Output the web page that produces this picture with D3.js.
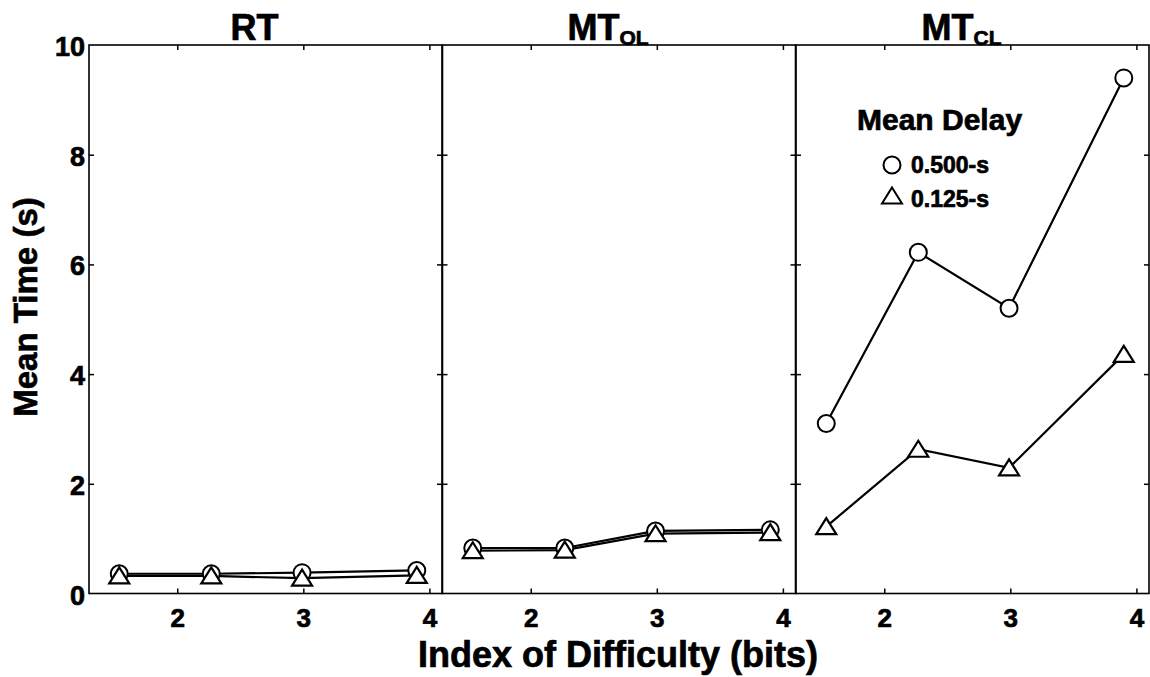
<!DOCTYPE html>
<html>
<head>
<meta charset="utf-8">
<script src="https://cdn.jsdelivr.net/npm/d3@7"></script>
<style>
  html, body { margin: 0; padding: 0; background: #fff; }
  svg { display: block; font-family: "Liberation Sans", Arial, Helvetica, sans-serif; font-weight: bold; }
  svg text { stroke: #000; stroke-width: 0.7px; }
</style>
</head>
<body>
<svg id="chart" width="1150" height="677"></svg>
<script>
// ---- data ----
const indexOfDifficulty = [1.54, 2.27, 2.99, 3.90];
const panelTitles = [["RT", ""], ["MT", "OL"], ["MT", "CL"]];
const delay500 = [
  [0.36, 0.36, 0.38, 0.42],   // RT
  [0.83, 0.83, 1.14, 1.16],   // MT_OL
  [3.10, 6.22, 5.20, 9.40]    // MT_CL
];
const delay125 = [
  [0.32, 0.32, 0.28, 0.33],
  [0.78, 0.79, 1.09, 1.11],
  [1.22, 2.63, 2.29, 4.36]
];
const legendLabels = ["0.500-s", "0.125-s"];
const xTicks = [2, 3, 4];
const yTicks = [0, 2, 4, 6, 8, 10];

// ---- layout ----
const svg = d3.select("#chart");
const plotTop = 45, plotBottom = 593.5;
const panelLefts = [89, 442.5, 796];
const panelW = 353;
const y = d3.scaleLinear().domain([0, 10]).range([plotBottom, plotTop]);

const triPath = "M0,-8.5 L10,7.5 L-10,7.5 Z";

panelLefts.forEach((x0, p) => {
  const x = d3.scaleLinear().domain([1.3, 4.1]).range([x0, x0 + panelW]);
  const g = svg.append("g");

  // frame
  g.append("rect").attr("x", x0).attr("y", plotTop).attr("width", panelW).attr("height", plotBottom - plotTop)
    .attr("fill", "none").attr("stroke", "#000").attr("stroke-width", 1.6);

  // bottom axis (inward ticks + labels)
  const xb = g.append("g").attr("transform", `translate(0,${plotBottom})`)
    .call(d3.axisBottom(x).tickValues(xTicks).tickSize(-5).tickPadding(0).tickFormat(d3.format("d")));
  xb.select(".domain").remove();
  xb.selectAll(".tick line").attr("stroke", "#000").attr("stroke-width", 1.5);
  xb.selectAll(".tick text").attr("font-size", 26).attr("font-weight", "bold")
    .attr("font-family", "Liberation Sans, Arial, sans-serif").attr("fill", "#000")
    .attr("dy", null).attr("y", 33);

  // top ticks
  const xt = g.append("g").attr("transform", `translate(0,${plotTop})`)
    .call(d3.axisTop(x).tickValues(xTicks).tickSize(-5).tickFormat(""));
  xt.select(".domain").remove();
  xt.selectAll(".tick line").attr("stroke", "#000").attr("stroke-width", 1.5);

  // left and right ticks
  const yl = g.append("g").attr("transform", `translate(${x0},0)`)
    .call(d3.axisLeft(y).tickValues(yTicks.slice(1, -1)).tickSize(-5).tickFormat(""));
  yl.select(".domain").remove();
  yl.selectAll(".tick line").attr("stroke", "#000").attr("stroke-width", 1.5);
  const yr = g.append("g").attr("transform", `translate(${x0 + panelW},0)`)
    .call(d3.axisRight(y).tickValues(yTicks.slice(1, -1)).tickSize(-5).tickFormat(""));
  yr.select(".domain").remove();
  yr.selectAll(".tick line").attr("stroke", "#000").attr("stroke-width", 1.5);

  // title
  const t = g.append("text").attr("x", x0 + panelW / 2 - 11).attr("y", 40)
    .attr("text-anchor", "middle").attr("font-size", 36).attr("fill", "#000");
  t.append("tspan").text(panelTitles[p][0]);
  if (panelTitles[p][1]) {
    t.append("tspan").attr("font-size", 21).attr("dy", 5).text(panelTitles[p][1]);
  }

  // lines
  const line = d3.line().x((d, i) => x(indexOfDifficulty[i])).y(d => y(d));
  g.append("path").datum(delay500[p]).attr("d", line)
    .attr("fill", "none").attr("stroke", "#000").attr("stroke-width", 2.2);
  g.append("path").datum(delay125[p]).attr("d", line)
    .attr("fill", "none").attr("stroke", "#000").attr("stroke-width", 2.2);

  // circle markers
  g.selectAll("circle.m").data(delay500[p]).join("circle").attr("class", "m")
    .attr("cx", (d, i) => x(indexOfDifficulty[i])).attr("cy", d => y(d)).attr("r", 8.5)
    .attr("fill", "#fff").attr("stroke", "#000").attr("stroke-width", 2);
  // triangle markers
  g.selectAll("path.t").data(delay125[p]).join("path").attr("class", "t")
    .attr("transform", (d, i) => `translate(${x(indexOfDifficulty[i])},${y(d)})`)
    .attr("d", triPath).attr("fill", "#fff").attr("stroke", "#000").attr("stroke-width", 2.2)
    .attr("stroke-linejoin", "miter");
});

// y tick labels on first panel
const ylab = svg.append("g");
ylab.selectAll("text").data(yTicks).join("text")
  .attr("x", 85).attr("y", d => y(d) + 11).attr("text-anchor", "end")
  .attr("font-size", 27).attr("fill", "#000").text(d => d);

// axis titles
svg.append("text").attr("x", 618).attr("y", 667).attr("text-anchor", "middle")
  .attr("font-size", 36).attr("fill", "#000").text("Index of Difficulty (bits)");
svg.append("text").attr("transform", "translate(37,307) rotate(-90)").attr("text-anchor", "middle")
  .attr("font-size", 33).attr("fill", "#000").text("Mean Time (s)");

// legend
const lg = svg.append("g");
lg.append("text").attr("x", 857).attr("y", 130).attr("font-size", 30).attr("fill", "#000").text("Mean Delay");
lg.append("circle").attr("cx", 892).attr("cy", 165).attr("r", 8.5)
  .attr("fill", "#fff").attr("stroke", "#000").attr("stroke-width", 2);
lg.append("path").attr("transform", "translate(892,196)").attr("d", triPath)
  .attr("fill", "#fff").attr("stroke", "#000").attr("stroke-width", 2);
lg.selectAll("text.item").data(legendLabels).join("text").attr("class", "item")
  .attr("x", 911).attr("y", (d, i) => 173 + i * 34).attr("font-size", 23).attr("fill", "#000").text(d => d);
</script>
</body>
</html>
